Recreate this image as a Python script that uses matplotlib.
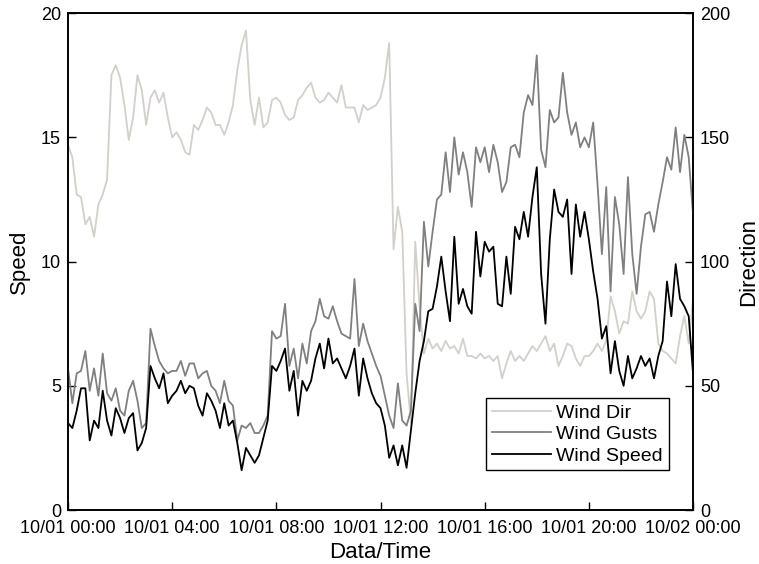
import numpy as np
import pandas as pd
import matplotlib
matplotlib.use("Agg")
import matplotlib.pyplot as plt
import matplotlib.dates as mdates

plt.rcParams['font.family'] = ['Liberation Sans', 'DejaVu Sans']

# 10-minute samples, 10/01 00:00 -> 10/02 00:00
times = pd.date_range("2013-10-01 00:00", "2013-10-02 00:00", freq="10min")

wind_speed = [
    3.5, 3.3, 4.0, 4.9, 4.9, 2.8, 3.6, 3.3, 4.8, 3.6, 3.0, 4.1,
    3.7, 3.1, 3.7, 3.9, 2.4, 2.7, 3.3, 5.8, 5.3, 4.9, 5.5, 4.3,
    4.6, 4.8, 5.2, 4.7, 5.0, 4.9, 4.2, 3.8, 4.7, 4.4, 4.0, 3.3,
    4.3, 3.4, 3.6, 2.7, 1.6, 2.5, 2.2, 1.9, 2.2, 2.9, 3.6, 5.8,
    5.6, 6.0, 6.5, 4.8, 5.6, 3.8, 5.2, 4.8, 5.2, 6.1, 6.7, 5.7,
    6.9, 5.9, 6.1, 5.7, 5.3, 5.8, 6.5, 4.6, 6.1, 5.3, 4.7, 4.3,
    4.1, 3.4, 2.1, 2.6, 1.8, 2.6, 1.7, 3.2, 4.7, 6.0, 6.8, 8.0,
    8.1, 9.0, 10.2, 8.8, 7.6, 11.0, 8.3, 8.9, 8.2, 7.9, 11.2, 9.4,
    10.8, 10.4, 10.6, 8.3, 8.2, 10.2, 8.7, 11.4, 10.9, 12.0, 11.0, 12.6,
    13.8, 9.5, 7.5, 10.9, 12.9, 12.0, 11.8, 12.5, 9.5, 12.3, 11.0, 12.0,
    10.9, 9.6, 8.5, 6.9, 7.4, 5.5, 6.8, 5.6, 5.0, 6.2, 5.3, 5.7,
    6.2, 5.8, 6.1, 5.3, 6.2, 6.8, 9.2, 7.8, 9.9, 8.5, 8.2, 7.8,
    5.5,
]

wind_gusts = [
    5.7, 4.3, 5.5, 5.6, 6.4, 4.8, 5.7, 4.6, 6.3, 4.7, 4.4, 4.9,
    4.0, 3.8, 4.8, 5.2, 4.4, 3.3, 3.5, 7.3, 6.6, 6.0, 5.7, 5.5,
    5.6, 5.6, 6.0, 5.4, 5.9, 5.9, 5.3, 5.5, 5.6, 5.0, 4.8, 4.3,
    5.2, 4.4, 4.2, 2.8, 3.4, 3.3, 3.5, 3.1, 3.1, 3.4, 3.8, 7.2,
    6.9, 7.0, 8.3, 5.8, 6.5, 5.3, 6.7, 5.9, 7.2, 7.6, 8.5, 7.8,
    7.7, 8.2, 7.6, 7.1, 7.0, 6.9, 9.3, 6.6, 7.5, 6.8, 6.3, 5.8,
    5.4, 4.6, 3.8, 3.3, 5.1, 3.6, 3.4, 4.0, 8.3, 7.2, 11.6, 9.8,
    11.2, 12.5, 12.7, 14.4, 12.8, 15.0, 13.5, 14.4, 13.6, 12.2, 14.6, 14.0,
    14.6, 13.6, 14.7, 14.0, 12.8, 13.2, 14.6, 14.7, 14.2, 16.0, 16.7, 16.3,
    18.3, 14.5, 13.8, 16.1, 15.6, 15.8, 17.6, 16.0, 15.1, 15.6, 14.6, 15.0,
    14.6, 15.6, 13.1, 10.3, 13.0, 8.8, 12.6, 11.5, 9.5, 13.4, 10.3, 8.7,
    10.6, 11.9, 12.0, 11.2, 12.3, 13.2, 14.2, 13.7, 15.4, 13.6, 15.1, 14.2,
    11.9,
]

wind_dir = [
    147, 142, 127, 126, 115, 118, 110, 123, 127, 133, 175, 179,
    174, 163, 149, 158, 175, 169, 155, 166, 169, 164, 168, 158,
    150, 152, 149, 144, 143, 155, 153, 157, 162, 160, 155, 155,
    151, 156, 163, 177, 187, 193, 165, 155, 166, 154, 156, 165,
    166, 164, 159, 157, 158, 165, 167, 170, 172, 166, 164, 165,
    168, 166, 164, 171, 162, 162, 162, 156, 163, 161, 162, 163,
    166, 174, 188, 105, 122, 112, 55, 35, 108, 82, 63, 69,
    65, 67, 64, 68, 65, 66, 63, 69, 62, 62, 61, 63,
    61, 62, 60, 62, 53, 59, 64, 60, 62, 60, 63, 66,
    64, 67, 70, 64, 67, 58, 62, 67, 66, 61, 58, 62,
    62, 64, 67, 64, 68, 86, 80, 71, 76, 75, 88, 80,
    77, 80, 88, 85, 67, 64, 63, 61, 59, 70, 78, 67,
    85,
]

fig = plt.figure(figsize=(7.59, 5.64), dpi=100)
ax1 = fig.add_axes([0.0896, 0.0957, 0.8235, 0.881])
ax2 = ax1.twinx()

l_dir, = ax2.plot(times, wind_dir, color='#d3cfc9', lw=1.3, label='Wind Dir')
l_gust, = ax1.plot(times, wind_gusts, color='#808080', lw=1.3, label='Wind Gusts')
l_speed, = ax1.plot(times, wind_speed, color='black', lw=1.3, label='Wind Speed')

# speed axes on top of direction axes
ax1.set_zorder(ax2.get_zorder() + 1)
ax1.patch.set_visible(False)

ax1.set_xlim(times[0], times[-1])
ax1.set_ylim(0, 20)
ax2.set_ylim(0, 200)
ax1.set_yticks([0, 5, 10, 15, 20])
ax2.set_yticks([0, 50, 100, 150, 200])

ax1.xaxis.set_major_locator(mdates.HourLocator(byhour=[0, 4, 8, 12, 16, 20]))
ax1.xaxis.set_major_formatter(mdates.DateFormatter('%m/%d %H:%M'))

for ax in (ax1, ax2):
    ax.tick_params(direction='in', length=6, width=1, labelsize=13, colors='black')
    for sp in ax.spines.values():
        sp.set_linewidth(1.2)
ax1.tick_params(axis='x', top=False, pad=7)
ax1.tick_params(axis='y', pad=5)
ax2.tick_params(axis='y', pad=5)

ax1.set_xlabel('Data/Time', fontsize=16, labelpad=4)
ax1.set_ylabel('Speed', fontsize=16, labelpad=8)
ax2.set_ylabel('Direction', fontsize=16, labelpad=6)

leg = ax1.legend(handles=[l_dir, l_gust, l_speed], loc='lower right',
                 bbox_to_anchor=(0.977, 0.06), fontsize=14, fancybox=False,
                 framealpha=1, edgecolor='black', handlelength=3.0,
                 borderpad=0.3, labelspacing=0.2, handletextpad=0.3)
leg.get_frame().set_linewidth(1.0)

fig.savefig('out.png', dpi=100)
